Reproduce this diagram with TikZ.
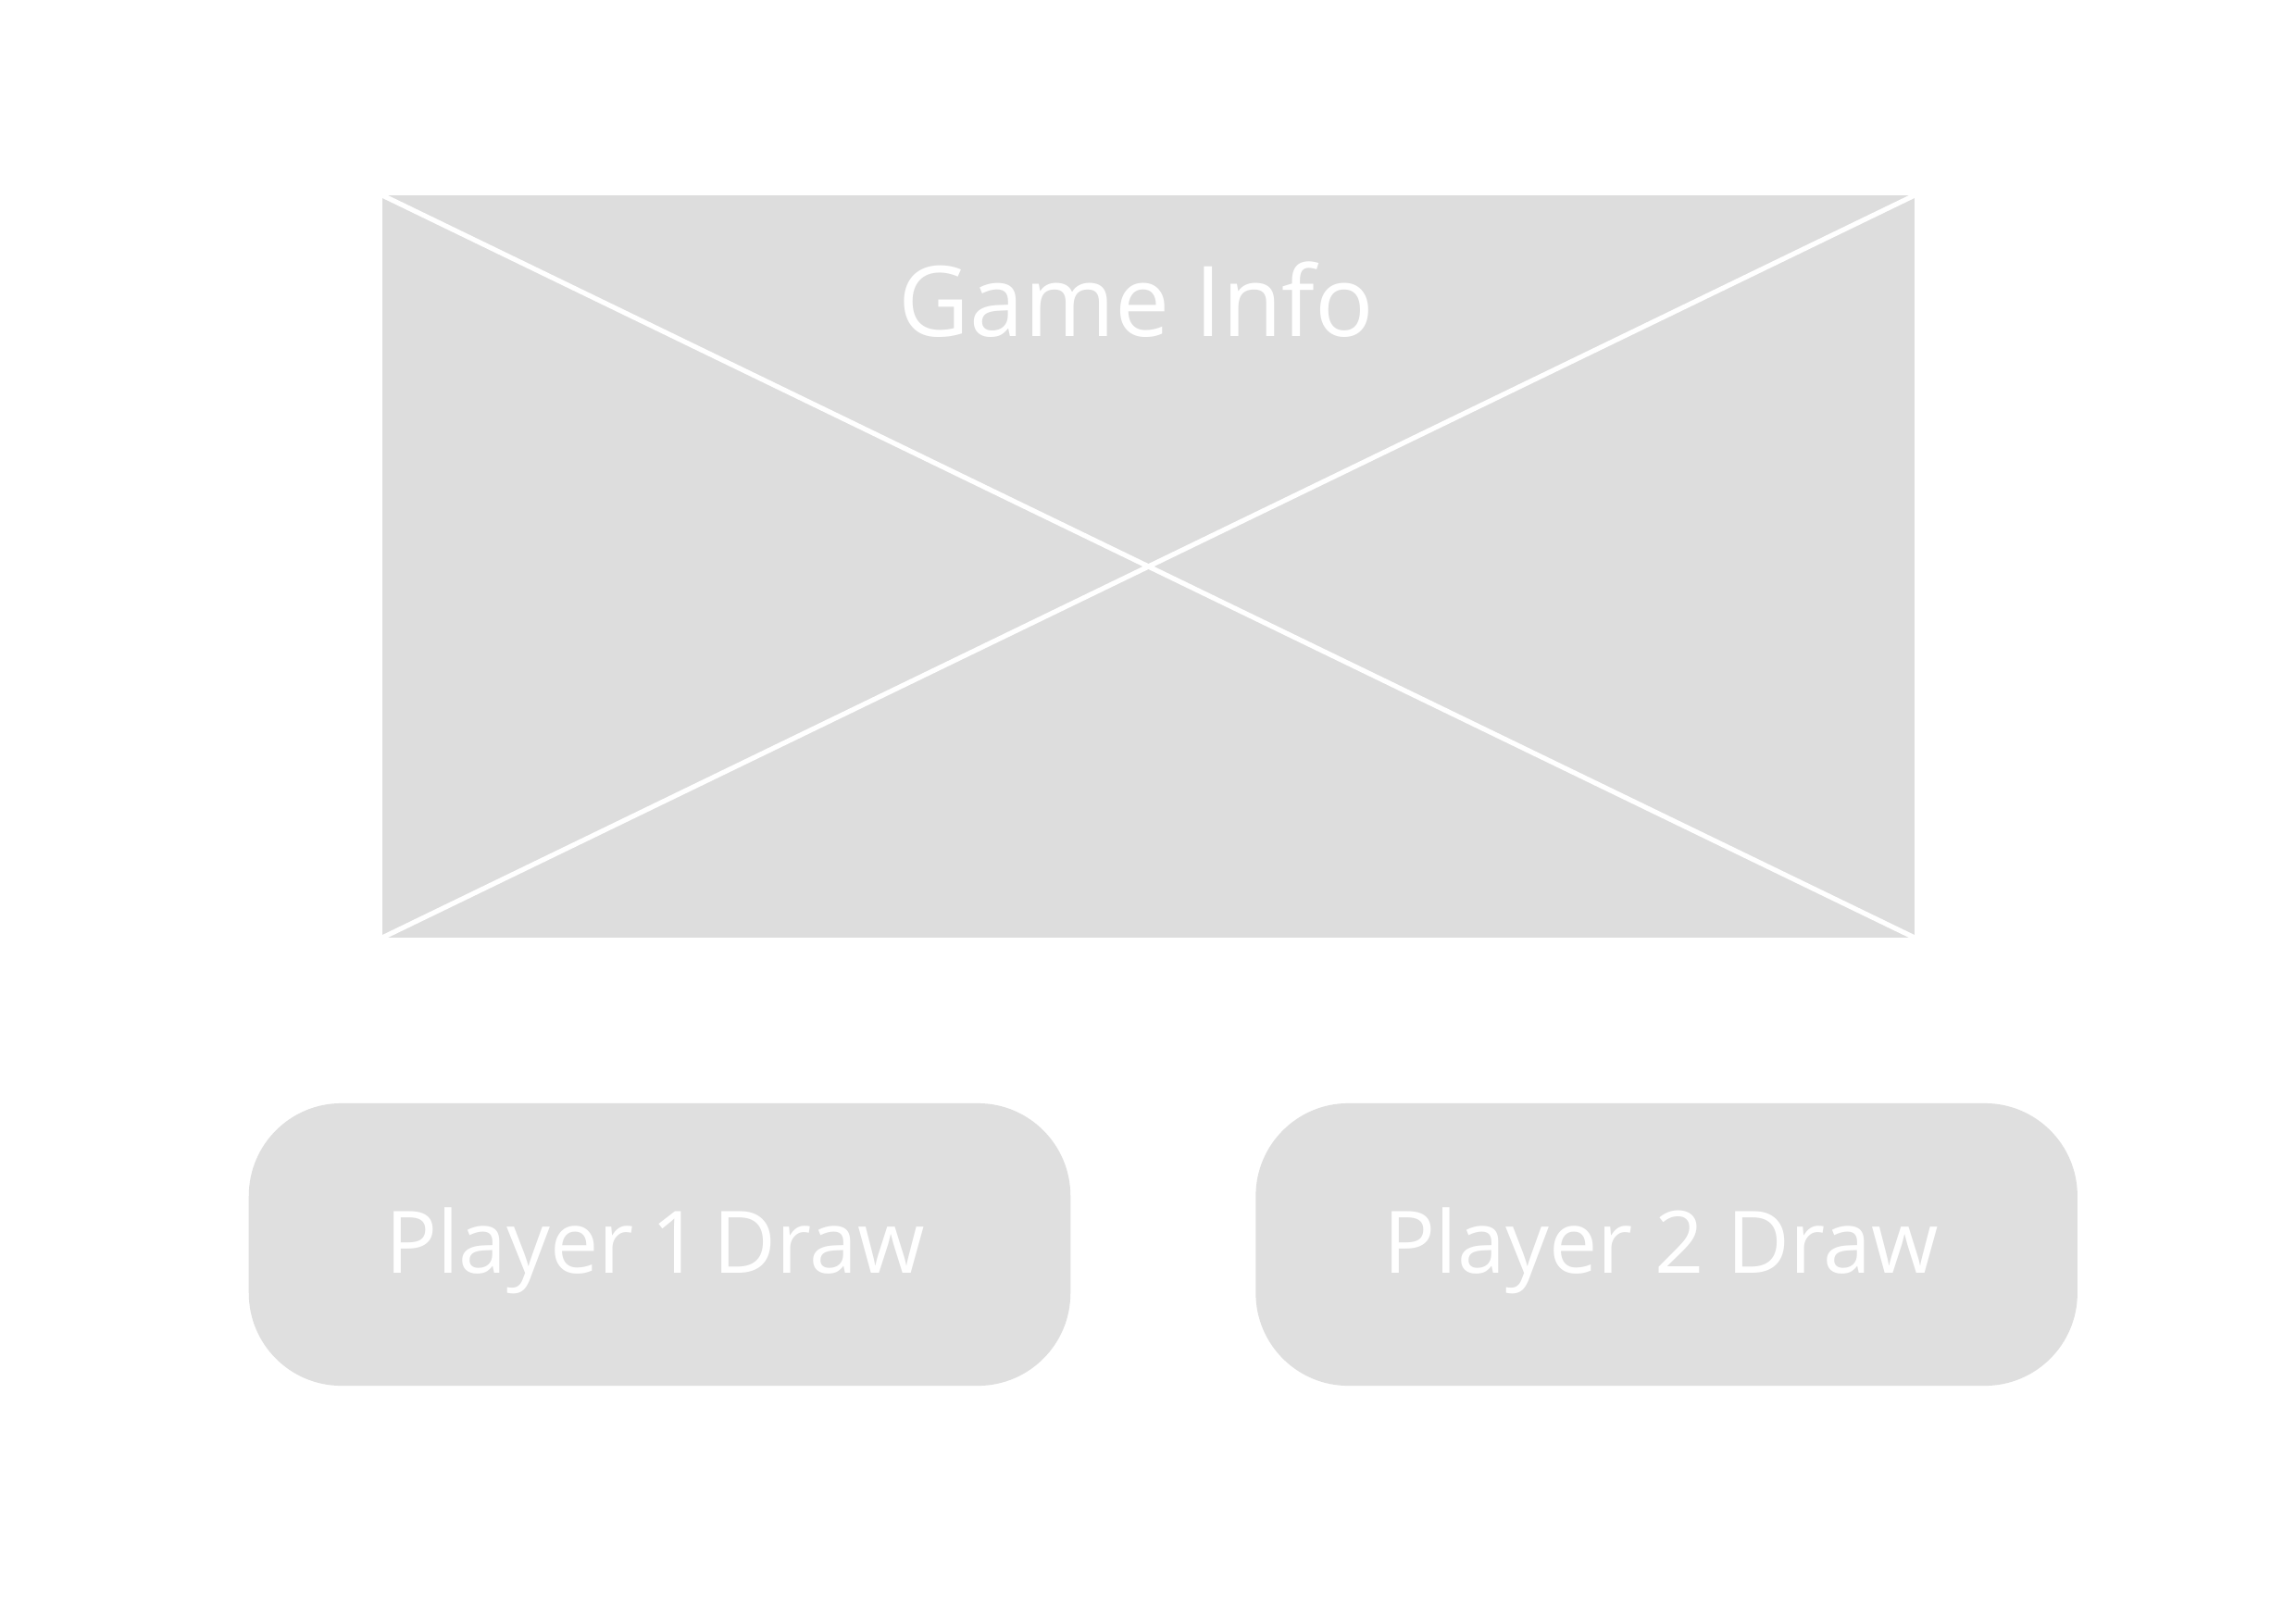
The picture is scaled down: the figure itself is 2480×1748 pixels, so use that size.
\documentclass[tikz,border=0pt]{standalone}
\usepackage{fontspec}
\setmainfont{Open Sans}[Numbers=Proportional]
\definecolor{infogray}{RGB}{221,221,221}
\definecolor{btngray}{RGB}{223,223,223}
\usetikzlibrary{positioning}

\begin{document}
\begin{tikzpicture}[x=0.01cm,y=-0.01cm,
    every node/.style={inner sep=0pt,outer sep=0pt},
    infobox/.style={fill=infogray,minimum width=16.55cm,minimum height=8.02cm},
    btnbox/.style={fill=btngray,rounded corners=1cm,minimum width=8.87cm,minimum height=3.05cm,
      text=white,font=\fontsize{26.5}{30}\selectfont,text height=0.83cm,text depth=0.22cm},
    infotext/.style={text=white,font=\fontsize{30}{36}\selectfont},
    crossline/.style={draw=white,line width=1.5pt}
    ]
    \useasboundingbox[fill=white] (0,0) rectangle (2480,1748);

    % the game info placeholder
    \node[infobox] (info) at (1240.5,612) {};
    \draw[crossline] (info.north west) -- (info.south east);
    \draw[crossline] (info.south west) -- (info.north east);
    \node[infotext,anchor=base] (title) at ([xshift=-0.13cm,yshift=-1.53cm]info.north) {Game Info};

    % the two draw buttons
    \node[btnbox] (p1) at (712.5,1344.5) {Player 1 Draw\kern0.1cm};
    \node[btnbox,right=2cm of p1] (p2) {Player 2 Draw\kern0.12cm};
\end{tikzpicture}
\end{document}
